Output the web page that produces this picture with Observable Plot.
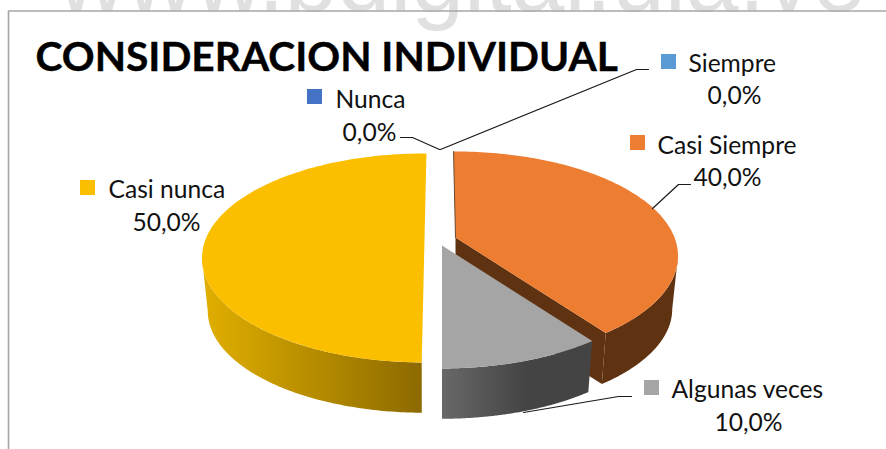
<!DOCTYPE html>
<html><head><meta charset="utf-8">
<style>html,body{margin:0;padding:0;background:#fff}svg{display:block}</style>
<script src="https://cdn.jsdelivr.net/npm/d3@7"></script>
<script src="https://cdn.jsdelivr.net/npm/@observablehq/plot@0.6"></script>
</head><body><script>
// Data
const categories = ["Nunca", "Siempre", "Casi Siempre", "Algunas veces", "Casi nunca"];
const shares = [0, 0, 40, 10, 50];
const title = "CONSIDERACION INDIVIDUAL";
const watermark = "www.bdigital.ula.ve";
const keyColors = ["#4472c4", "#5b9bd5", "#ed7d31", "#a5a5a5", "#fbbf00"];

// Layout (pixels of the picture; the x and y scales are the identity)
const W = 886, H = 449, FONT = "Lato";
const rx = 219, persp = 0.177, ry = 101.2, floorScale = 0.974, floorDrop = 53.5;
const apexes = {"Casi Siempre": [455, 237, -0.6, 0], "Algunas veces": [441.5, 245, 0, 0], "Casi nunca": [424, 239, 0.6, 0.6]};
const labelPos = {
  "Nunca": {key: [307, 89], name: [335, 107], val: [369, 140]},
  "Siempre": {key: [661, 54], name: [688, 71], val: [734, 103]},
  "Casi Siempre": {key: [630, 135], name: [657, 153], val: [727, 185]},
  "Algunas veces": {key: [644, 380], name: [671, 397], val: [748, 430]},
  "Casi nunca": {key: [80, 180], name: [108, 197], val: [166, 230]}
};
const leaders = [
  [[400, 137], [412, 137], [439, 149]],
  [[648, 69], [636, 69], [440, 149]],
  [[690, 184], [678, 184], [652, 208]],
  [[631, 396], [618, 396], [523, 412]]
];

// Pie angles come from the values; the disc is seen through a perspective map.
const rad = Math.PI / 180;
const arcs = d3.pie().sort(null).startAngle(0).endAngle(2 * Math.PI)(shares);
const sliceOf = Object.fromEntries(categories.map((c, i) => {
  const n = apexes[c] || [440, 240, 0, 0];
  return [c, {ox: n[0], oy: n[1], a0: arcs[i].startAngle + n[2] * rad, a1: arcs[i].endAngle + n[3] * rad}];
}));
const topPt = (s, t) => {
  const u = Math.sin(t), v = Math.cos(t), k = 1 + persp * v;
  return [s.ox + rx * u / k, s.oy - ry * v / k];
};
const floorPt = (s, t) => {
  const u = Math.sin(t), v = Math.cos(t), k = 1 + persp * v;
  return [s.ox + floorScale * rx * u / k, s.oy + floorDrop - floorScale * ry * v / k];
};
const arcAngles = (a, b) => d3.range(0, 121).map(i => a + (b - a) * i / 120);
const topPoly = s => [[s.ox, s.oy], ...arcAngles(s.a0, s.a1).map(t => topPt(s, t))];
const wallPoly = (s, a, b) => [...arcAngles(a, b).map(t => topPt(s, t)), ...arcAngles(a, b).reverse().map(t => floorPt(s, t))];
const cutPoly = (s, t) => [[s.ox, s.oy], topPt(s, t), floorPt(s, t), [s.ox, s.oy + floorDrop]];
// Angle where the seen disc is widest: the walls' silhouette starts there.
const sideAngle = Math.acos(-persp);

const orange = sliceOf["Casi Siempre"], grey = sliceOf["Algunas veces"], yellow = sliceOf["Casi nunca"];
const poly = (pts, fill) => Plot.line(pts, {x: d => d[0], y: d => d[1], fill, stroke: "none"});
const edge = (pts, stroke, w) => Plot.line(pts, {x: d => d[0], y: d => d[1], stroke, strokeWidth: w});

const defs = () => {
  const d = d3.create("svg:defs");
  const grad = (id, x1, x2, c1, c2) => {
    const g = d.append("linearGradient").attr("id", id).attr("gradientUnits", "userSpaceOnUse")
      .attr("x1", x1).attr("x2", x2).attr("y1", 0).attr("y2", 0);
    g.append("stop").attr("offset", 0).attr("stop-color", c1);
    g.append("stop").attr("offset", 1).attr("stop-color", c2);
  };
  grad("wallYellow", 205, 421, "#e0ae00", "#8c6a00");
  grad("wallGrey", 442, 525, "#686868", "#444444");
  return d.node();
};

const labelRows = categories.map((c, i) => ({
  c, i, pct: shares[i].toFixed(1).replace(".", ",") + "%", ...labelPos[c]
}));

const chart = Plot.plot({
  width: W, height: H, margin: 0,
  x: {domain: [0, W], range: [0, W], axis: null},
  y: {domain: [0, H], range: [0, H], axis: null},
  style: {background: "#fff"},
  marks: [
    defs,
    Plot.text([watermark], {x: 57, y: 10, text: d => d, textAnchor: "start", lineAnchor: "bottom", fontFamily: "Liberation Sans", fontSize: 95, fill: "#e0e0e0"}),
    edge([[8, H], [8, 10.5], [W, 10.5]], "#a6a6a6", 1.6),
    // yellow slice
    poly(wallPoly(yellow, yellow.a0, 2 * Math.PI - sideAngle), "url(#wallYellow)"),
    poly(topPoly(yellow), keyColors[4]),
    // orange slice
    poly(cutPoly(orange, orange.a1), "#5f3212"),
    poly(wallPoly(orange, sideAngle, orange.a1), "#5f3212"),
    poly(topPoly(orange), keyColors[2]),
    edge([[orange.ox, orange.oy], topPt(orange, orange.a0)], "#6b4a30", 1),
    // grey slice
    poly(wallPoly(grey, grey.a0, grey.a1), "url(#wallGrey)"),
    poly(topPoly(grey), keyColors[3]),
    // leaders
    ...leaders.map(l => edge(l, "#1a1a1a", 1.2)),
    // title
    Plot.text([title], {x: 35, y: 70, text: d => d, textAnchor: "start", lineAnchor: "bottom", fontFamily: FONT, fontWeight: 700, fontSize: 40.7, fill: "#000", stroke: "#000", strokeWidth: 0.4}),
    // legend keys
    Plot.rect(labelRows, {x1: d => d.key[0], x2: d => d.key[0] + 15, y1: d => d.key[1], y2: d => d.key[1] + 15, fill: d => keyColors[d.i]}),
    // labels
    Plot.text(labelRows, {x: d => d.name[0], y: d => d.name[1], text: "c", textAnchor: "start", lineAnchor: "bottom", fontFamily: FONT, fontSize: 24.6, fill: "#111"}),
    Plot.text(labelRows, {x: d => d.val[0], y: d => d.val[1], text: "pct", textAnchor: "middle", lineAnchor: "bottom", fontFamily: FONT, fontSize: 24.6, fill: "#111"})
  ]
});
document.body.appendChild(chart);
</script></body></html>
